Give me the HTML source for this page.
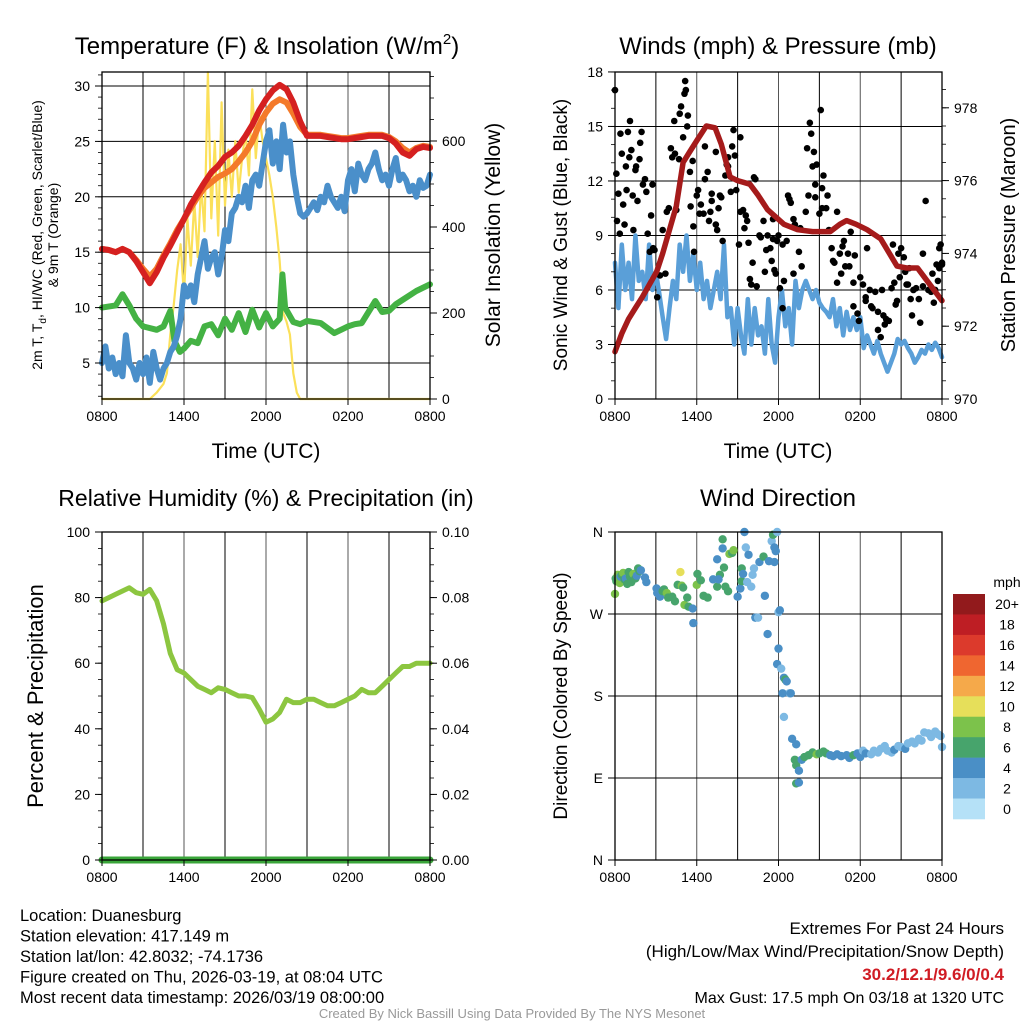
<!DOCTYPE html>
<html><head><meta charset="utf-8"><style>
body{margin:0;background:#fff}
svg{display:block;font-family:"Liberation Sans",Arial,sans-serif}
</style></head><body>
<svg id="c" width="1024" height="1024" viewBox="0 0 1024 1024" xmlns="http://www.w3.org/2000/svg">
<g id="grid"></g><g id="marks"></g><g id="frames"></g><g id="txt"></g>
</svg>
<script>
// ---- Panel 1: temperature ----
const tdT = [0,0.25,0.5,0.75,1,1.25,1.5,1.75,2,2.25,2.5,2.75,3,3.25,3.5,3.75,4,4.25,4.5,4.75,5,5.25,5.5,5.75,6,6.25,6.5,6.75,7,7.25,7.5,7.75,8,8.25,8.5,8.75,9,9.25,9.5,9.75,10,10.25,10.5,10.75,11,11.25,11.5,11.75,12,12.25,12.5,12.75,13,13.25,13.5,13.75,14,14.25,14.5,14.75,15,15.25,15.5,15.75,16,16.25,16.5,16.75,17,17.25,17.5,17.75,18,18.25,18.5,18.75,19,19.25,19.5,19.75,20,20.25,20.5,20.75,21,21.25,21.5,21.75,22,22.25,22.5,22.75,23,23.25,23.5,23.75,24];
const tdVals = [5,6.5,4.5,5.5,4,5,3.8,7.5,5,4.5,3.5,5,4,5.5,3.2,6,4.5,
 3.5,4.5,5,6,6.5,7.5,9,12,
 11,12,10.5,13,14.5,16,13.5,14.5,
 15,13,14.5,17,16,18.5,19,20,
 19.5,21,19,21.5,22,21,23,25,
 26,23,25,22.5,26.5,24,25,22,
 20,18.5,18.2,18.5,19,19.5,18.8,20,
 19.5,21,20,19.5,19,20,18.7,21.5,
 22.5,20.5,23,22,21.5,22.5,23,24,
 22.5,21.5,22,21,22.5,23.5,21.5,22,
 21.5,20.5,21,20,21.5,20.8,21,22];
const halfT = [0,0.5,1,1.5,2,2.5,3,3.5,4,4.5,5,5.5,6,6.5,7,7.5,8,8.5,9,9.5,10,10.5,11,11.5,12,12.5,13,13.5,14,14.5,15,15.5,16,16.5,17,17.5,18,18.5,19,19.5,20,20.5,21,21.5,22,22.5,23,23.5,24];
const redVals = [15.3,15.2,15.0,15.3,15.0,14.2,13.2,12.2,13.2,14.5,15.6,16.8,18.0,19.3,20.3,21.3,22.2,22.8,23.6,24.0,24.6,25.5,26.5,27.8,28.8,29.6,30.1,29.7,28.5,26.8,25.5,25.5,25.5,25.4,25.3,25.2,25.2,25.3,25.4,25.5,25.5,25.5,25.3,24.8,24.0,23.7,24.3,24.5,24.4];
const orangeVals = [15.3,15.2,15.0,15.3,15.0,14.3,13.5,12.8,13.5,14.7,15.8,17.0,18.0,19.0,20.0,20.8,21.3,21.8,22.1,22.5,23.2,24.0,25.0,26.5,27.6,28.4,28.8,28.5,27.5,26.3,25.6,25.6,25.6,25.5,25.4,25.3,25.3,25.4,25.5,25.6,25.6,25.6,25.4,25.0,24.4,24.0,24.4,24.6,24.5];
const greenT = [0,1,1.5,2,2.5,3,4,4.5,5,5.3,5.7,6,6.5,7,7.5,8,8.5,9,9.5,10,10.5,11,11.5,12,12.5,13,13.2,13.4,14,14.5,15,16,17,18,18.5,19,20,20.5,21,21.5,22,23,24];
const greenVals = [10,10.2,11.2,10.2,9,8.3,8,8.3,9.7,7,6,6.3,7,6.8,8.3,8.5,7.5,9,8,9.5,7.8,9.8,8.2,9.5,8.3,9,13,10,8.7,8.5,8.8,8.6,7.7,8.3,8.5,8.6,10.6,9.6,9.7,10.3,10.7,11.5,12.1];
const solT = [0,3.5,4,4.5,4.75,5,5.25,5.5,5.75,6,6.25,6.5,6.75,7,7.25,7.5,7.75,8,8.25,8.5,8.75,9,9.25,9.5,9.75,10,10.25,10.5,10.75,11,11.25,11.5,11.75,12,12.25,12.5,12.75,13,13.25,13.5,13.75,14,14.25,14.5,24];
const solVals = [0,0,15,35,60,150,220,300,360,240,420,310,460,330,500,390,760,420,600,380,690,450,580,470,600,480,560,620,520,720,560,660,600,560,520,470,400,320,200,180,150,60,15,0,0];
// ---- Panel 2: wind & pressure ----
const windVals = [7.5,5,8.5,6,7.5,5.5,9,6.5,7,5.5,8.5,6,7,5.8,4.5,3.3,5,
 6.5,5.5,8.5,7,9,6.5,8,6,
 7.5,5.5,6.5,5,6,7,5.5,8.5,
 4.5,5,3,5,3.5,2.5,5.5,3,
 5,3.5,4,2.5,5.5,3,2,4.5,
 6,4,5,3,6.5,5,6,6.5,
 6,5.5,6,5.3,5,4.8,4.5,5.5,
 4,5,3.5,4.8,3.8,4.5,3.8,4.5,
 2.8,3.5,3,2.5,3.2,2.5,2,1.5,
 2,2.5,3.3,3,3.2,2.8,2.5,2,
 2.3,2.7,2.5,3,2.7,3.1,2.8,2.3];
const gustT = [0,0.1,0.15,0.25,0.35,0.4,0.5,0.6,0.7,0.8,0.85,0.95,1.05,1.1,1.2,1.3,1.35,1.5,1.55,1.65,1.8,1.85,1.95,2.05,2.2,2.3,2.4,2.55,2.65,2.75,2.8,2.9,3.1,3.3,
3.5,3.7,3.8,3.95,4.1,4.2,4.35,4.4,4.5,4.7,4.75,4.85,5.0,5.1,5.15,5.2,5.3,5.35,5.5,5.55,5.7,5.75,5.8,
6.0,6.1,6.2,6.3,6.5,6.6,6.6,6.8,6.9,7.0,7.1,7.1,7.4,7.4,7.5,7.6,7.7,7.8,7.9,8.1,8.2,8.3,8.3,8.5,8.6,8.7,8.8,8.9,9.1,9.2,9.2,9.4,9.5,9.6,9.7,9.8,9.9,10.0,10.1,10.2,10.3,10.4,10.6,10.7,10.9,11.0,11.1,11.2,11.4,11.5,11.6,11.6,11.7,11.8,11.9,12.0,12.1,12.3,12.3,12.4,12.6,12.7,12.8,12.9,13.1,13.1,13.2,13.5,13.6,13.7,
14.0,14.1,14.2,14.3,14.4,14.5,14.6,14.7,14.7,14.8,15.0,15.1,15.2,15.2,15.3,15.5,15.6,15.7,15.9,16.0,16.1,16.3,16.3,16.5,16.6,16.7,16.8,16.9,17.1,17.2,17.3,17.5,17.5,17.6,17.8,17.9,18.0,18.2,18.4,18.4,18.5,18.7,18.8,18.9,19.1,19.3,19.3,19.5,19.6,19.7,19.8,19.9,20.1,20.3,20.4,20.5,20.6,20.7,20.8,20.9,21.0,21.2,21.3,21.4,21.5,21.6,21.7,21.8,21.9,22.1,22.3,22.4,22.6,22.6,22.8,23.0,23.2,23.3,23.5,23.6,23.8,23.9,23.8,24.0,24.0,23.4,23.7];
const gustVals = [17,12.4,9.8,11.3,9.1,14.6,13.5,10.7,9.6,12.8,11.5,14.7,13.3,15.3,13.7,11.2,9.3,12.6,12.8,10.9,13.2,14.1,14.7,11.8,12.1,11.4,9.1,8.1,10.1,11.8,8.3,8.2,5.6,6.8,
9.3,6.9,10.3,10.5,13.8,13.3,15.3,13.5,10.4,13.2,15.7,16.1,14.4,16.8,17.5,17.0,15.0,15.6,12.5,10.6,13.1,9.5,8.1,
11.2,11.5,10.2,10.7,10.2,12.1,13.9,12.5,9.8,10.3,10.9,11.3,13.6,9.6,9.3,10.5,11.2,11.1,8.7,12.3,12.9,13.3,12.8,11.4,13.9,14.8,13.4,11.5,8.5,14.4,10.3,10.4,9.4,10.1,9.8,8.6,6.6,6.3,7.5,12.2,12.1,6.2,9.0,8.9,9.8,7.0,8.2,9.0,8.3,7.6,9.9,8.8,7.1,6.9,8.7,9.0,6.1,5.0,8.5,6.5,8.7,11.2,11.0,10.8,9.9,6.9,9.6,8.1,9.4,7.3,
10.3,13.8,11.2,15.2,14.6,12.8,13.6,11.8,11.1,12.9,10.2,15.9,10.5,11.6,12.3,10.5,11.2,9.3,8.3,7.6,7.5,10.3,6.4,8.0,6.9,8.4,8.7,7.3,8.0,7.3,9.2,6.4,5.1,7.9,4.7,4.3,6.7,6.3,5.6,5.4,8.3,6.0,5.1,5.0,5.9,4.8,3.8,3.4,6.0,4.6,4.1,4.4,4.3,6.1,8.5,6.4,5.2,5.4,8.0,6.7,8.3,7.8,7.0,6.3,6.3,7.2,5.5,4.6,6.0,6.1,5.5,4.2,8.0,6.2,10.9,6.0,5.9,6.9,6.0,7.4,8.3,8.5,7.2,7.5,7.4,5.3,6.5];
const presT = [0,0.5,1,1.5,2,3.06,3.5,4.5,5.0,5.5,6.0,6.7,7.35,7.8,8.45,9.0,9.9,10.5,11.2,12.4,13.4,14.5,15.8,16.5,17.0,17.7,18.5,19.5,20.7,21.4,22.2,22.6,23.2,24];
const presVals = [971.3,971.8,972.2,972.5,972.8,973.5,974.0,975.3,976.5,976.8,977.1,977.5,977.45,977.0,976.1,976.0,975.9,975.6,975.2,974.8,974.65,974.6,974.6,974.8,974.9,974.8,974.65,974.4,973.65,973.6,973.6,973.4,973.1,972.7];
// ---- Panel 3: RH ----
const rhVals = [79,80,81,82,83,81.5,81,82.5,79,72,63,58,57,55,53,52,51,52.5,52,51,50,50,49.5,46,42,43,45,49,48,48,49,49,48,47,47,48,49,50,52,51,51,53,55,57,59,59,60,60,60];
const precipVals = [0,0];
const precipT = [0,24];
// ---- Panel 4: wind direction ----
const wdT = [0,0.05,0.1,0.2,0.3,0.35,0.4,0.5,0.6,0.7,0.8,0.9,1.0,1.1,1.2,1.35,1.5,1.6,1.7,1.8,1.9,2.2,2.3,3.05,3.1,3.3,3.5,3.6,3.8,3.9,4.2,4.4,4.6,4.8,4.9,5.0,5.1,5.3,5.4,5.7,5.75,6.0,6.05,6.3,6.5,6.8,7.2,7.5,7.5,7.7,7.6,7.9,7.9,8.0,8.1,8.3,8.4,8.6,8.7,9.0,9.2,9.3,9.3,9.4,9.5,9.6,9.7,9.8,10.0,10.1,10.3,10.5,10.2,10.6,10.9,11.0,11.2,11.3,11.5,11.6,11.7,11.8,11.7,11.9,12.0,12.1,12.0,11.9,12.2,12.4,12.5,12.6,12.8,12.9,12.3,12.4,13.0,13.3,13.2,13.3,13.5,13.3,13.5,13.7,13.9,14.2,14.5,14.8,15.0,15.3,15.5,15.8,16.0,16.3,16.6,17.0,17.2,17.5,17.8,18.0,18.2,18.4,18.8,19.0,19.3,19.5,19.8,20.0,20.3,20.5,20.8,21.0,21.3,21.5,21.8,22.0,22.3,22.5,22.7,23.0,23.2,23.5,23.7,23.9,24.0];
const wdDir = [292,309,306,313,310,304,311,313,315,308,309,303,316,311,305,314,309,312,320,317,318,310,305,298,293,289,295,297,293,288,289,284,302,316,301,299,280,288,278,276,260,302,314,307,290,288,308,300,330,313,308,352,342,321,300,295,336,337,340,289,298,306,320,314,360,343,305,335,300,313,266,266,320,327,333,290,248,328,350,357,343,339,327,360,272,274,232,215,210,200,198,196,183,183,183,157,133,127,110,104,98,84,85,110,113,115,118,116,117,119,117,115,114,116,114,115,112,115,117,113,120,117,116,120,118,122,125,120,118,121,125,124,122,128,130,128,133,131,140,139,135,141,138,136,124];
const wdSpd = [8,6,7,8,8,8,5,6,8,7,5,7,7,6,6,8,6,5,6,7,4,4,4,4,4,4,6,7,8,7,7,7,6,10,8,7,8,6,7,4,4,8,6,7,6,6,4,6,5,6,4,6,4,6,6,7,8,7,8,4,5,6,6,4,4,3,2,4,2,3,4,2,2,4,7,4,4,4,3,7,4,4,4,2,2,4,4,4,2,4,6,4,2,4,4,2,4,4,6,6,4,6,4,4,6,6,6,8,6,6,6,4,4,4,4,4,4,6,4,4,2,4,2,2,2,2,2,2,2,4,2,2,4,2,2,2,2,2,2,2,2,2,2,2,2];
const barLabels = ["20+","18","16","14","12","10","8","6","4","2","0"];
const barColors = ["#921a1c","#be1e24","#dc3a2c","#ef6630","#f5a94a","#e6df5a","#7cc24b","#47a46c","#4a8fc6","#7db9e3","#b5e1f7"];
const xTicks = ["0800","1400","2000","0200","0800"];

const NS="http://www.w3.org/2000/svg";
const G={grid:document.getElementById('grid'),marks:document.getElementById('marks'),frames:document.getElementById('frames'),txt:document.getElementById('txt')};
function el(tag,attrs,parent,text){const e=document.createElementNS(NS,tag);for(const k in attrs)e.setAttribute(k,attrs[k]);if(text!==undefined)e.textContent=text;parent.appendChild(e);return e;}
function txt(x,y,s,size,anchor,parent,extra){const e=el('text',Object.assign({x:x,y:y,'font-size':size,'text-anchor':anchor||'middle',fill:'#000'},extra||{}),parent||G.txt,s);return e;}
function pathOf(ts,vs,fx,fy){let d='';for(let i=0;i<ts.length;i++){d+=(i?'L':'M')+fx(ts[i]).toFixed(1)+','+fy(vs[i]).toFixed(1);}return d;}
const qT = tdT;

function panel(id,L,R,T,B,hlines){
  const fx=t=>L+(R-L)*t/24;
  for(let i=0;i<=8;i++){const x=fx(i*3);
    const l=el('line',{x1:x,y1:T,x2:x,y2:B,stroke:i%2?'#000':'#555','stroke-width':1},G.grid);
    
    }
  hlines.forEach(y=>{const l=el('line',{x1:L,y1:y,x2:R,y2:y,stroke:'#000','stroke-width':1},G.grid);
    
    });
  const f=el('rect',{x:L,y:T,width:R-L,height:B-T,fill:'none',stroke:'#000','stroke-width':1.3},G.frames);
  
  
  for(let i=0;i<=4;i++){const x=fx(i*6);
    el('line',{x1:x,y1:B,x2:x,y2:B+6,stroke:'#000'},G.frames);
    const t=txt(x,B+22,xTicks[i],14);
    
    }
  return fx;
}
function leftTicks(L,vals,fy,labels,minorStep,lo,hi,id){
  vals.forEach((v,i)=>{const y=fy(v);el('line',{x1:L-7,y1:y,x2:L,y2:y,stroke:'#000'},G.frames);
    const t=txt(L-12,y+5,labels[i],14,'end');
    
    });
  if(minorStep)for(let v=lo;v<=hi+1e-9;v+=minorStep){const y=fy(v);el('line',{x1:L-4,y1:y,x2:L,y2:y,stroke:'#000','stroke-width':0.8},G.frames);}
}
function rightTicks(R,vals,fy,labels,minorStep,lo,hi,id){
  vals.forEach((v,i)=>{const y=fy(v);el('line',{x1:R,y1:y,x2:R+7,y2:y,stroke:'#000'},G.frames);
    const t=txt(R+12,y+5,labels[i],14,'start');
    
    });
  if(minorStep)for(let v=lo;v<=hi+1e-9;v+=minorStep){const y=fy(v);el('line',{x1:R,y1:y,x2:R+4,y2:y,stroke:'#000','stroke-width':0.8},G.frames);}
}
function line(d,color,w,name){const p=el('path',{d:d,fill:'none',stroke:color,'stroke-width':w,'stroke-linejoin':'round','stroke-linecap':'round'},G.marks);
  
  return p;}

// ===== Panel 1 =====
{
 const L=102,R=430,T=72,B=399;
 const fy=v=>86+(30-v)*11.08, fw=w=>399-w*0.43;
 const fx=panel('temp',L,R,T,B,[5,10,15,20,25,30].map(fy));
 leftTicks(L,[5,10,15,20,25,30],fy,['5','10','15','20','25','30'],1,2,31,'temp');
 rightTicks(R,[0,200,400,600],fw,['0','200','400','600'],50,0,750,'temp');
 line(pathOf(solT,solVals,fx,fw),'#fbe05a',2.2,'solar-insolation-line');
 line(pathOf(greenT,greenVals,fx,fy),'#44b244',6,'dewpoint-line');
 line(pathOf(qT,tdVals,fx,fy),'#4a8fca',6,'wind-chill-line');
 line(pathOf(halfT,orangeVals,fx,fy),'#f47a2a',6,'temp-9m-line');
 line(pathOf(halfT,redVals,fx,fy),'#d52020',6,'temp-2m-line');
 txt(267,54,'',24).innerHTML='Temperature (F) &amp; Insolation (W/m<tspan dy="-10" font-size="15">2</tspan><tspan dy="10">)</tspan>';
 txt(266,458,'Time (UTC)',21);
 const yl=txt(0,0,'',14,'middle',G.txt,{transform:'translate(42,235) rotate(-90)'});
 yl.innerHTML='2m T, T<tspan dy="4" font-size="10">d</tspan><tspan dy="-4">, HI/WC (Red, Green, Scarlet/Blue)</tspan>';
 txt(0,0,'& 9m T (Orange)',14,'middle',G.txt,{transform:'translate(58,235) rotate(-90)'});
 txt(0,0,'Solar Insolation (Yellow)',21,'middle',G.txt,{transform:'translate(500,235) rotate(-90)'});
}
// ===== Panel 2 =====
{
 const L=615,R=942,T=72,B=399;
 const fy=v=>399-v*18.17, fp=p=>399-(p-970)*36.4;
 const fx=panel('wind',L,R,T,B,[3,6,9,12,15].map(fy));
 leftTicks(L,[0,3,6,9,12,15,18],fy,['0','3','6','9','12','15','18'],1,0,18,'wind');
 rightTicks(R,[970,972,974,976,978],fp,['970','972','974','976','978'],0.5,970,978.9,'wind');
 line(pathOf(qT,windVals,fx,fy),'#5a9fd8',4.5,'sonic-wind-line');
 for(let i=0;i<gustT.length;i++){
   const c=el('circle',{cx:fx(gustT[i]),cy:fy(gustVals[i]),r:3.3,fill:'#000'},G.marks);
   
   
 }
 line(pathOf(presT,presVals,fx,fp),'#a51b1b',5.5,'pressure-line');
 txt(778,54,'Winds (mph) & Pressure (mb)',24);
 txt(778,458,'Time (UTC)',21);
 txt(0,0,'Sonic Wind & Gust (Blue, Black)',19,'middle',G.txt,{transform:'translate(567,235) rotate(-90)'});
 txt(0,0,'Station Pressure (Maroon)',20,'middle',G.txt,{transform:'translate(1015,235) rotate(-90)'});
}
// ===== Panel 3 =====
{
 const L=102,R=430,T=532,B=860;
 const fy=v=>860-v*3.28, fp=p=>860-p*3280;
 const fx=panel('rh',L,R,T,B,[]);
 leftTicks(L,[0,20,40,60,80,100],fy,['0','20','40','60','80','100'],5,0,100,'rh');
 rightTicks(R,[0,0.02,0.04,0.06,0.08,0.10],fp,['0.00','0.02','0.04','0.06','0.08','0.10'],0.005,0,0.1,'rh');
 line(pathOf(halfT,rhVals,fx,fy),'#8cc640',5,'relative-humidity-line');
 line(pathOf(precipT,precipVals,fx,fp),'#3aa53a',7,'precipitation-line');
 txt(266,506,'Relative Humidity (%) & Precipitation (in)',23);
 txt(0,0,'Percent & Precipitation',22,'middle',G.txt,{transform:'translate(43,696) rotate(-90)'});
}
// ===== Panel 4 =====
{
 const L=615,R=942,T=532,B=860;
 const fy=d=>860-d*(328/360);
 const fx=panel('dir',L,R,T,B,[90,180,270].map(fy));
 leftTicks(L,[0,90,180,270,360],fy,['N','E','S','W','N'],0,0,0,'dir');
 for(let i=0;i<wdT.length;i++){
   const idx=Math.min(10,Math.floor(wdSpd[i]/2));
   const c=el('circle',{cx:fx(wdT[i]),cy:fy(wdDir[i]),r:4.2,fill:barColors[10-idx]},G.marks);
   
   
 }
 txt(778,506,'Wind Direction',24);
 txt(0,0,'Direction (Colored By Speed)',19,'middle',G.txt,{transform:'translate(567,696) rotate(-90)'});
 const bh=(819-594)/11;
 for(let i=0;i<11;i++){
   const r=el('rect',{x:953,y:594+i*bh,width:32,height:bh+0.3,fill:barColors[i]},G.marks);
   
   
   const t=txt(1007,594+i*bh+bh/2+5,barLabels[i],14);
   
   
 }
 txt(1007,587,'mph',14);
}
// footer
const foot=["Location: Duanesburg","Station elevation: 417.149 m","Station lat/lon: 42.8032; -74.1736","Figure created on Thu, 2026-03-19, at 08:04 UTC","Most recent data timestamp: 2026/03/19 08:00:00"];
foot.forEach((s,i)=>{const t=txt(20,921+i*20.5,s,16.5,'start');});
txt(1004,934,'Extremes For Past 24 Hours',17,'end');
txt(1004,957,'(High/Low/Max Wind/Precipitation/Snow Depth)',17,'end');
const ex=txt(1004,980,'30.2/12.1/9.6/0/0.4',17,'end',G.txt,{fill:'#d01c24','font-weight':'bold'});


txt(1004,1003,'Max Gust: 17.5 mph On 03/18 at 1320 UTC',16,'end');
txt(512,1018,'Created By Nick Bassill Using Data Provided By The NYS Mesonet',13,'middle',G.txt,{fill:'#999'});
</script>
</body></html>
